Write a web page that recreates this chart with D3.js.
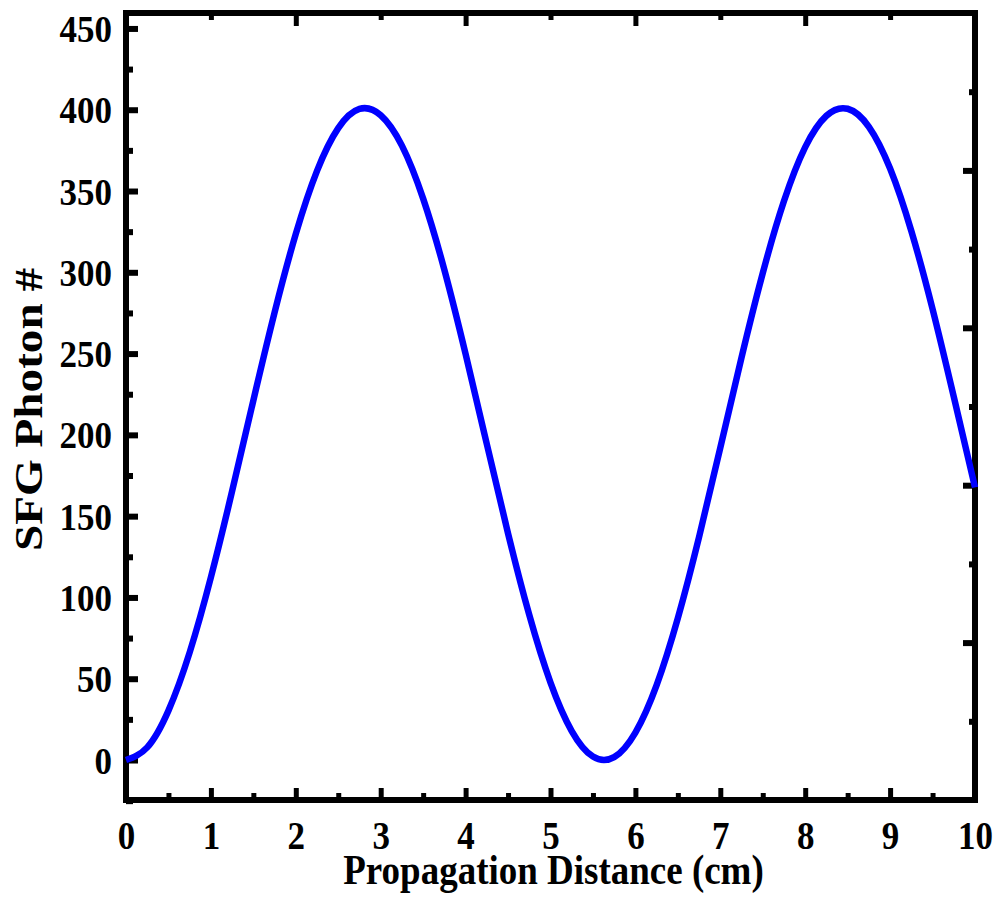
<!DOCTYPE html>
<html><head><meta charset="utf-8">
<script src="https://cdn.jsdelivr.net/npm/d3@7"></script>
<style>
html,body{margin:0;padding:0;background:#fff;}
svg text{font-family:"Liberation Serif","Times New Roman",serif;font-weight:bold;fill:#000;}
</style></head>
<body><svg id="c" width="1000" height="898"></svg>
<script>
// Data
const distance = [0,0.25,0.5,0.75,1,1.25,1.5,1.75,2,2.25,2.5,2.75,3,3.25,3.5,3.75,4,4.25,4.5,4.75,5,5.25,5.5,5.75,6,6.25,6.5,6.75,7,7.25,7.5,7.75,8,8.25,8.5,8.75,9,9.25,9.5,9.75,10];
const photons = [0,7.8,30.4,66.2,112.4,165.4,221.2,275.3,323.6,362.4,388.7,400.5,396.6,377.9,345.3,301.5,249.7,194.3,139.4,89.2,47.6,17.8,2.1,1.8,16.9,46.1,87.3,137.2,192.1,247.6,299.5,343.8,377.0,396.3,400.6,389.5,363.8,325.4,277.4,223.4,167.7];
const xMajorTicks = [0,1,2,3,4,5,6,7,8,9,10];
const xMinorTicks = [0.5,1.5,2.5,3.5,4.5,5.5,6.5,7.5,8.5,9.5];
const yMajorTicks = [0,50,100,150,200,250,300,350,400,450];
const yMinorTicks = [-25,25,75,125,175,225,275,325,375,425];
const topMajorTicks = [2,4,6,8];
const topMinorTicks = [1,3,5,7,9];
const rightMajorTicks = [1,2,3,4];
const rightMinorTicks = [0.5,1.5,2.5,3.5,4.5];
const xTitle = "Propagation Distance (cm)";
const yTitle = "SFG Photon #";

const L = 126, R = 975, T = 13, B = 800;
const svg = d3.select("#c");
const x = d3.scaleLinear().domain([0,10]).range([L,R]);
const y = d3.scaleLinear().domain([-24.6,459.5]).range([B,T]);
const yR = d3.scaleLinear().domain([0,5]).range([B,T]);

function styleAxis(g, w){
  g.select(".domain").remove();
  g.selectAll(".tick line").attr("stroke","#000").attr("stroke-width",w);
}
// bottom
svg.append("g").attr("transform",`translate(0,${B})`)
  .call(d3.axisBottom(x).tickValues(xMajorTicks).tickSize(-12).tickPadding(26).tickFormat(d3.format("d")))
  .call(g=>{styleAxis(g,5); g.selectAll("text").attr("font-size",35).attr("dy","0.71em")
     .attr("transform","scale(1,1.12)").attr("y",19);});
svg.append("g").attr("transform",`translate(0,${B})`)
  .call(d3.axisBottom(x).tickValues(xMinorTicks).tickSize(-7).tickFormat(""))
  .call(g=>styleAxis(g,5));
// left
svg.append("g").attr("transform",`translate(${L},0)`)
  .call(d3.axisLeft(y).tickValues(yMajorTicks).tickSize(-12).tickPadding(14).tickFormat(d3.format("d")))
  .call(g=>{styleAxis(g,6); g.selectAll("text").attr("font-size",35).attr("dy","0.34em")
     .attr("x",-14).attr("transform","scale(1,1.1)");});
svg.append("g").attr("transform",`translate(${L},0)`)
  .call(d3.axisLeft(y).tickValues(yMinorTicks).tickSize(-7).tickFormat(""))
  .call(g=>styleAxis(g,6));
// top
svg.append("g").attr("transform",`translate(0,${T})`)
  .call(d3.axisTop(x).tickValues(topMajorTicks).tickSize(-13).tickFormat(""))
  .call(g=>styleAxis(g,5));
svg.append("g").attr("transform",`translate(0,${T})`)
  .call(d3.axisTop(x).tickValues(topMinorTicks).tickSize(-7).tickFormat(""))
  .call(g=>styleAxis(g,5));
// right
svg.append("g").attr("transform",`translate(${R},0)`)
  .call(d3.axisRight(yR).tickValues(rightMajorTicks).tickSize(-12).tickFormat(""))
  .call(g=>styleAxis(g,6));
svg.append("g").attr("transform",`translate(${R},0)`)
  .call(d3.axisRight(yR).tickValues(rightMinorTicks).tickSize(-6).tickFormat(""))
  .call(g=>styleAxis(g,6));

// frame
svg.append("rect").attr("x",L).attr("y",T).attr("width",R-L).attr("height",B-T)
  .attr("fill","none").attr("stroke","#000").attr("stroke-width",6);

// curve
const line = d3.line().x((d,i)=>x(distance[i])).y(d=>y(d)).curve(d3.curveNatural);
svg.append("path").datum(photons).attr("d",line).attr("fill","none")
  .attr("stroke","#0000ff").attr("stroke-width",6.5).attr("stroke-linejoin","round");

// titles
svg.append("text").attr("transform",`translate(${(L+R)/2+3},884) scale(1,1.15)`)
  .attr("text-anchor","middle").attr("font-size",37).text(xTitle);
svg.append("text").attr("transform",`translate(42,${(T+B)/2+3}) rotate(-90) scale(1.18,1)`)
  .attr("text-anchor","middle").attr("font-size",40).text(yTitle);
</script></body></html>
